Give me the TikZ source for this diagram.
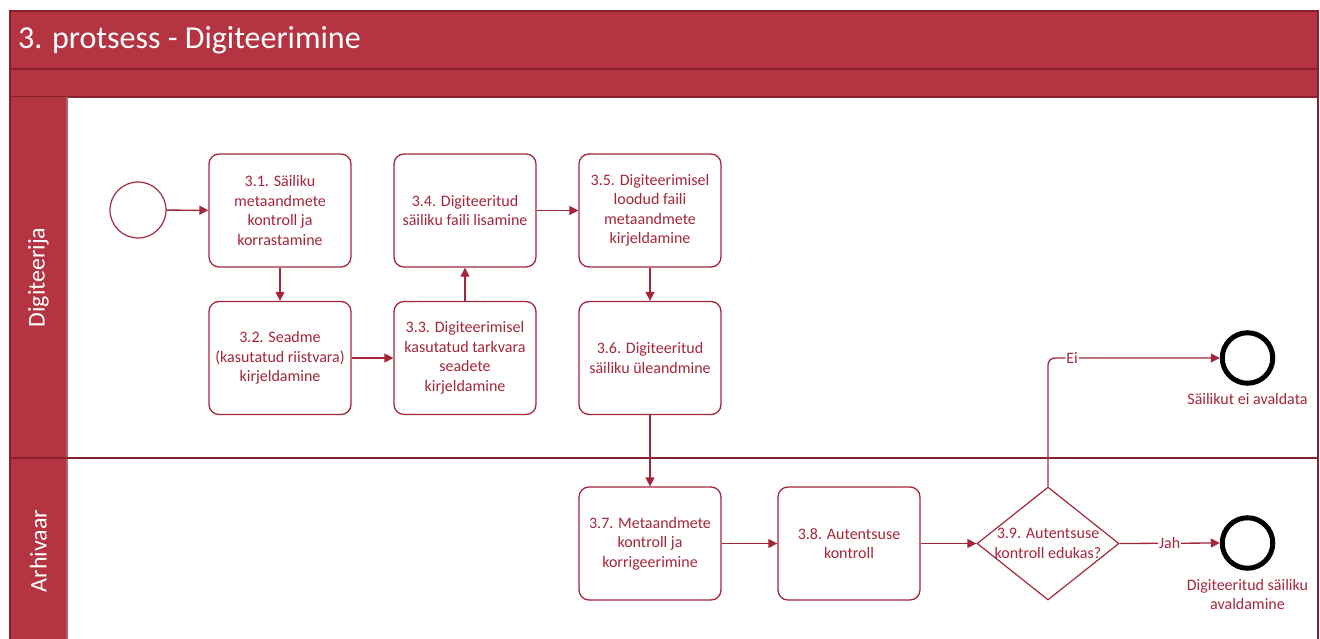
\documentclass[tikz,border=0pt]{standalone}
\usepackage{fontspec}
\setmainfont{Carlito}
\usetikzlibrary{shapes.geometric,arrows.meta}
\definecolor{lanefill}{RGB}{180,52,66}
\definecolor{laneedge}{RGB}{138,32,46}
\definecolor{flow}{RGB}{164,38,58}
\begin{document}
\begin{tikzpicture}[x=1pt,y=-1pt,
  task/.style={draw=flow, line width=1.3pt, rounded corners=10pt, fill=white,
    minimum width=142pt, minimum height=113pt, align=center, text=flow,
    font=\fontsize{16}{19.5}\selectfont, inner sep=2pt},
  startev/.style={circle, draw=flow, line width=1.2pt, minimum size=56pt, inner sep=0pt},
  endev/.style={circle, draw=black, line width=5pt, minimum size=50.5pt, inner sep=0pt},
  gateway/.style={diamond, draw=flow, line width=1.2pt, minimum width=142pt, minimum height=113pt, inner sep=0pt},
  flowtext/.style={align=center, text=flow, font=\fontsize{16}{19.5}\selectfont, inner sep=0pt},
  edgelabel/.style={fill=white, text=flow, font=\fontsize{16}{19.5}\selectfont, inner sep=1pt},
  flowarrow/.style={draw=flow, line width=1.3pt, -{Triangle[length=9pt,width=9pt]}},
  lanetitle/.style={text=white, font=\fontsize{24}{28}\selectfont, rotate=90}
]
\useasboundingbox (0,0) rectangle (1320,639);

% pool title bands
\fill[lanefill] (10,11) rectangle (1318,97);
\draw[laneedge, line width=1.2pt] (10,11) rectangle (1318,69);
\draw[laneedge, line width=1.2pt] (10,69) rectangle (1318,97);
\node[anchor=west, text=white, font=\fontsize{32}{36}\selectfont, inner sep=0pt] (pooltitle) at (18,40) {3. protsess - Digiteerimine};

% lane header column
\fill[lanefill] (10,97) rectangle (67,650);
\draw[laneedge, line width=1.2pt] (10,97) -- (10,650);
\draw[laneedge!70!white, line width=1.2pt] (67,97) -- (67,650);
\draw[laneedge, line width=1.2pt] (1318,97) -- (1318,650);
\draw[laneedge, line width=1.6pt] (10,458) -- (1318,458);

\node[lanetitle] (lane1) at (38.5,277.5) {Digiteerija};
\node[lanetitle] (lane2) at (38.5,551) {Arhivaar};

% Digiteerija lane
\node[startev] (start) at (138,210) {};
\node[task] (t31) at (280,210.5) {3.1. Säiliku\\metaandmete\\kontroll ja\\korrastamine};
\node[task] (t32) at (280,358) {3.2. Seadme\\(kasutatud riistvara)\\kirjeldamine};
\node[task] (t33) at (465,358) {3.3. Digiteerimisel\\kasutatud tarkvara\\seadete\\kirjeldamine};
\node[task] (t34) at (465,210.5) {3.4. Digiteeritud\\säiliku faili lisamine};
\node[task] (t35) at (650,210.5) {3.5. Digiteerimisel\\loodud faili\\metaandmete\\kirjeldamine};
\node[task] (t36) at (650,358) {3.6. Digiteeritud\\säiliku üleandmine};
\node[endev] (end1) at (1247.5,358) {};
\node[flowtext, anchor=north] (end1lbl) at (1247.5,393) {Säilikut ei avaldata};

% Arhivaar lane
\node[task] (t37) at (650,543.5) {3.7. Metaandmete\\kontroll ja\\korrigeerimine};
\node[task] (t38) at (849,543.5) {3.8. Autentsuse\\kontroll};
\node[gateway] (g39) at (1048,543.5) {};
\node[flowtext] (g39lbl) at (1048,543.5) {3.9. Autentsuse\\kontroll edukas?};
\node[endev] (end2) at (1247.5,543) {};
\node[flowtext, anchor=north] (end2lbl) at (1247.5,579) {Digiteeritud säiliku\\avaldamine};

% sequence flows
\draw[flowarrow] (start) -- (t31);
\draw[flowarrow] (t31) -- (t32);
\draw[flowarrow] (t32) -- (t33);
\draw[flowarrow] (t33) -- (t34);
\draw[flowarrow] (t34) -- (t35);
\draw[flowarrow] (t35) -- (t36);
\draw[flowarrow] (t36) -- (t37);
\draw[flowarrow] (t37) -- (t38);
\draw[flowarrow] (t38) -- (g39);
\draw[flowarrow] (g39.east) -- node[edgelabel] {Jah} (end2.west);
\draw[flowarrow, rounded corners=7pt] (g39.north) |- node[edgelabel, pos=0.57] {Ei} (end1.west);

\end{tikzpicture}
\end{document}
